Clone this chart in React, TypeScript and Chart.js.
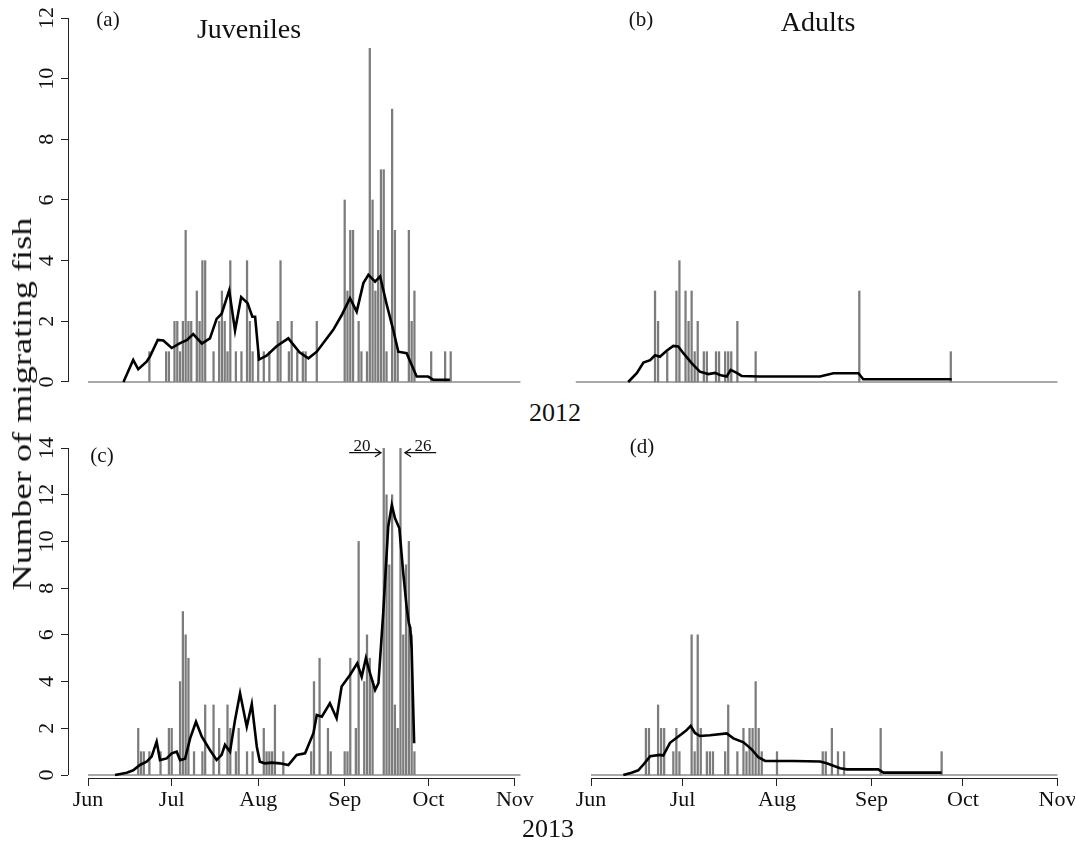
import React, { useEffect, useRef } from "react";
import { Chart, registerables } from "chart.js";

Chart.register(...registerables);

const FONT = "'Liberation Serif', 'Times New Roman', Times, serif";

// x positions are days since 1 June
const monthTickDays = [0, 30, 61, 92, 122, 153];
const monthTickLabels = ["Jun", "Jul", "Aug", "Sep", "Oct", "Nov"];
const yTicksTop = [0, 2, 4, 6, 8, 10, 12];
const yTicksBottom = [0, 2, 4, 6, 8, 10, 12, 14];

// (a) Juveniles 2012 — daily counts
const juvDays2012 = [22, 28, 29, 31, 32, 33, 34, 35, 36, 37, 39, 40, 41, 42, 45, 47, 48, 49, 50, 51, 53, 55, 57, 58, 59, 61, 63, 65, 68, 69, 72, 73, 75, 77, 78, 82, 92, 93, 94, 95, 97, 98, 100, 101, 102, 103, 104, 105, 106, 107, 109, 110, 111, 115, 116, 117, 123, 128, 130];
const juvCounts2012 = [1, 1, 1, 2, 2, 1, 2, 5, 2, 2, 3, 2, 4, 4, 1, 2, 3, 2, 1, 4, 1, 1, 4, 2, 1, 1, 1, 1, 2, 4, 1, 2, 1, 1, 1, 2, 6, 3, 5, 5, 2, 1, 1, 11, 6, 3, 5, 7, 7, 1, 9, 5, 1, 5, 2, 3, 1, 1, 1];
// (a) running mean
const juvSmoothDays2012 = [12.7, 16.2, 18.0, 21.0, 22.2, 25.0, 27.0, 30.0, 33.0, 35.4, 37.7, 40.8, 43.7, 46.1, 47.9, 50.6, 52.7, 54.9, 57.2, 58.9, 59.9, 61.3, 64.0, 67.6, 71.8, 75.8, 79.0, 82.0, 87.9, 90.9, 93.9, 96.3, 98.7, 100.5, 102.9, 104.7, 107.1, 109.4, 111.2, 114.2, 117.8, 121.9, 123.8, 129.7];
const juvSmooth2012 = [0, 0.73, 0.42, 0.67, 0.84, 1.39, 1.37, 1.12, 1.28, 1.38, 1.58, 1.27, 1.44, 2.08, 2.25, 3.02, 1.7, 2.8, 2.6, 2.15, 2.15, 0.74, 0.87, 1.18, 1.44, 0.98, 0.78, 1.0, 1.72, 2.2, 2.76, 2.32, 3.26, 3.53, 3.31, 3.48, 2.54, 1.72, 1.0, 0.95, 0.18, 0.18, 0.07, 0.07];

// (b) Adults 2012
const adDays2012 = [21, 22, 25, 28, 29, 31, 32, 33, 34, 35, 37, 38, 41, 42, 44, 45, 46, 48, 54, 88, 118];
const adCounts2012 = [3, 2, 1, 3, 4, 3, 2, 3, 1, 2, 1, 1, 1, 1, 1, 1, 1, 2, 1, 3, 1];
const adSmoothDays2012 = [12.2, 15.0, 17.2, 19.4, 21.0, 22.6, 24.8, 27.0, 28.6, 30.3, 33.0, 35.7, 38.5, 40.7, 42.3, 44.5, 45.8, 47.8, 49.4, 55.4, 75.1, 79.5, 87.7, 89.3, 118.3];
const adSmooth2012 = [0, 0.29, 0.64, 0.72, 0.88, 0.83, 1.03, 1.19, 1.17, 0.95, 0.62, 0.34, 0.26, 0.3, 0.23, 0.18, 0.4, 0.3, 0.2, 0.18, 0.18, 0.29, 0.29, 0.09, 0.09];

// (c) Juveniles 2013
const juvDays2013 = [18, 19, 20, 22, 26, 29, 30, 33, 34, 35, 36, 38, 41, 42, 45, 47, 50, 51, 53, 54, 57, 59, 63, 64, 65, 66, 67, 70, 80, 81, 83, 86, 87, 92, 93, 94, 96, 97, 99, 100, 101, 102, 106, 107, 108, 109, 110, 111, 112, 113, 114, 115, 116, 117];
const juvCounts2013 = [2, 1, 1, 1, 1, 2, 2, 4, 7, 6, 5, 1, 1, 3, 3, 2, 3, 2, 1, 2, 1, 1, 2, 1, 1, 1, 3, 1, 1, 4, 5, 2, 1, 1, 1, 5, 2, 10, 4, 6, 5, 4, 20, 12, 9, 12, 3, 2, 26, 6, 9, 10, 6, 1];
const juvSmoothDays2013 = [9.7, 13.9, 16.2, 18.6, 21.0, 22.8, 24.6, 25.8, 28.2, 30.0, 31.8, 33.0, 34.8, 36.6, 38.7, 40.8, 43.7, 46.1, 47.9, 49.1, 50.9, 52.7, 54.5, 56.9, 58.7, 60.5, 61.6, 63.4, 65.8, 68.8, 71.8, 74.8, 77.8, 80.8, 82.0, 83.8, 86.7, 89.1, 90.9, 93.9, 96.5, 98.1, 99.6, 101.1, 102.9, 104.1, 105.8, 107.6, 108.9, 110.0, 111.6, 113.0, 114.2, 115.0, 115.5, 116.0, 116.9];
const juvSmooth2013 = [0, 0.1, 0.2, 0.43, 0.57, 0.79, 1.43, 0.64, 0.71, 0.93, 1.0, 0.64, 0.7, 1.57, 2.28, 1.64, 1.07, 0.64, 0.86, 1.29, 1.0, 2.36, 3.5, 2.07, 3.04, 1.21, 0.57, 0.5, 0.53, 0.5, 0.43, 0.86, 0.93, 1.79, 2.57, 2.5, 3.07, 2.43, 3.79, 4.28, 4.78, 4.2, 5.0, 4.35, 3.64, 3.93, 6.92, 10.63, 11.56, 11.0, 10.56, 8.63, 7.2, 6.5, 6.3, 5.4, 1.36];

// (d) Adults 2013
const adDays2013 = [18, 19, 22, 23, 24, 27, 28, 29, 33, 34, 35, 36, 38, 39, 40, 44, 45, 48, 50, 51, 52, 53, 54, 55, 56, 61, 76, 77, 79, 81, 83, 95, 115];
const adCounts2013 = [2, 2, 3, 2, 2, 1, 2, 1, 6, 1, 6, 2, 1, 1, 1, 1, 3, 1, 2, 1, 2, 2, 4, 2, 1, 1, 1, 1, 2, 1, 1, 2, 1];
const adSmoothDays2013 = [10.6, 13.3, 15.5, 17.2, 19.4, 22.6, 23.7, 25.9, 29.2, 31.2, 32.7, 34.1, 35.7, 39.0, 44.5, 46.7, 50.0, 52.7, 54.9, 57.1, 66.3, 75.1, 77.3, 81.7, 83.9, 94.2, 95.9, 115.0];
const adSmooth2013 = [0, 0.1, 0.2, 0.45, 0.8, 0.86, 0.83, 1.38, 1.7, 1.9, 2.1, 1.8, 1.67, 1.7, 1.78, 1.57, 1.4, 1.1, 0.76, 0.6, 0.6, 0.58, 0.5, 0.29, 0.24, 0.24, 0.1, 0.1];

type Arrow = { from: number; to: number; y: number };

type PanelSpec = {
  key: string;
  days: number[];
  counts: number[];
  smoothDays: number[];
  smooth: number[];
  chartLeft: number;
  chartRight: number;
  chartTop: number;
  chartBottom: number;
  xMin: number;
  xMax: number;
  yMin: number;
  yMax: number;
  yTicks: number[];
  showX: boolean;
  showY: boolean;
  baseFrom: number;
  baseTo: number;
  arrows?: Arrow[];
};

const LEFT = { chartLeft: 68, chartRight: 530, xMin: -7.17, xMax: 158.42 };
const RIGHT = { chartLeft: 575, chartRight: 1065, xMin: -5.25, xMax: 155.46 };
const TOP = { chartTop: 18, chartBottom: 385, yMin: -0.099, yMax: 12, yTicks: yTicksTop };
const BOTTOM = { chartTop: 448, chartBottom: 778, yMin: -0.128, yMax: 14, yTicks: yTicksBottom };

const panels: PanelSpec[] = [
  { key: "a", days: juvDays2012, counts: juvCounts2012, smoothDays: juvSmoothDays2012, smooth: juvSmooth2012, ...LEFT, ...TOP, showX: false, showY: true, baseFrom: 0, baseTo: 155 },
  { key: "b", days: adDays2012, counts: adCounts2012, smoothDays: adSmoothDays2012, smooth: adSmooth2012, ...RIGHT, ...TOP, showX: false, showY: false, baseFrom: -5, baseTo: 153 },
  {
    key: "c", days: juvDays2013, counts: juvCounts2013, smoothDays: juvSmoothDays2013, smooth: juvSmooth2013, ...LEFT, ...BOTTOM, showX: true, showY: true, baseFrom: 0, baseTo: 155,
    arrows: [{ from: 93.6, to: 105.0, y: 13.8 }, { from: 124.8, to: 113.6, y: 13.8 }],
  },
  { key: "d", days: adDays2013, counts: adCounts2013, smoothDays: adSmoothDays2013, smooth: adSmooth2013, ...RIGHT, ...BOTTOM, showX: true, showY: false, baseFrom: 0, baseTo: 153 },
];

const YW = 60;
const XH = 45;
const PT = 20;
const PB = 10;
const PR = 10;

function Panel({ spec }: { spec: PanelSpec }) {
  const ref = useRef<HTMLCanvasElement>(null);
  const PL = spec.showY ? 0 : 10;
  const canvasLeft = spec.chartLeft - PL - (spec.showY ? YW : 0);
  const canvasTop = spec.chartTop - PT;
  const width = spec.chartRight + PR - canvasLeft;
  const height = spec.chartBottom + (spec.showX ? XH : 0) + PB - canvasTop;

  useEffect(() => {
    const canvas = ref.current;
    if (!canvas) return;
    const yTop = spec.yTicks[spec.yTicks.length - 1];
    const decor = {
      id: "rdecor_" + spec.key,
      beforeDatasetsDraw(chart: any) {
        const { ctx, scales } = chart;
        const x = scales.x;
        const y = scales.y;
        ctx.save();
        ctx.strokeStyle = "#8c8c8c";
        ctx.lineWidth = 1.4;
        ctx.beginPath();
        const y0 = y.getPixelForValue(0);
        ctx.moveTo(x.getPixelForValue(spec.baseFrom), y0);
        ctx.lineTo(x.getPixelForValue(spec.baseTo), y0);
        ctx.stroke();
        ctx.restore();
      },
      afterDraw(chart: any) {
        const { ctx, scales, chartArea } = chart;
        const x = scales.x;
        const y = scales.y;
        ctx.save();
        ctx.strokeStyle = "#222";
        ctx.lineWidth = 1;
        if (spec.showX) {
          const yy = Math.round(chartArea.bottom) + 0.5;
          ctx.beginPath();
          ctx.moveTo(x.getPixelForValue(monthTickDays[0]), yy);
          ctx.lineTo(x.getPixelForValue(monthTickDays[monthTickDays.length - 1]), yy);
          ctx.stroke();
        }
        if (spec.showY) {
          const xx = Math.round(chartArea.left) + 0.5;
          ctx.beginPath();
          ctx.moveTo(xx, y.getPixelForValue(0));
          ctx.lineTo(xx, y.getPixelForValue(yTop));
          ctx.stroke();
        }
        if (spec.arrows) {
          ctx.strokeStyle = "#111";
          ctx.lineWidth = 1.3;
          for (const a of spec.arrows) {
            const x1 = x.getPixelForValue(a.from);
            const x2 = x.getPixelForValue(a.to);
            const yy = y.getPixelForValue(a.y);
            const dir = x2 > x1 ? 1 : -1;
            ctx.beginPath();
            ctx.moveTo(x1, yy);
            ctx.lineTo(x2, yy);
            ctx.moveTo(x2 - dir * 6, yy - 4);
            ctx.lineTo(x2, yy);
            ctx.lineTo(x2 - dir * 6, yy + 4);
            ctx.stroke();
          }
        }
        ctx.restore();
      },
    };

    const chart = new Chart(canvas, {
      type: "bar",
      data: {
        datasets: [
          {
            type: "line",
            data: spec.smoothDays.map((d, i) => ({ x: d, y: spec.smooth[i] })),
            borderColor: "#000",
            borderWidth: 2.6,
            pointRadius: 0,
            tension: 0,
            fill: false,
            order: 1,
          } as any,
          {
            type: "bar",
            data: spec.days.map((d, i) => ({ x: d, y: spec.counts[i] })),
            backgroundColor: "#7c7c7c",
            borderWidth: 0,
            barThickness: 1.6,
            order: 2,
          } as any,
        ],
      },
      options: {
        responsive: false,
        animation: false,
        devicePixelRatio: 1,
        layout: { padding: { left: PL, right: PR, top: PT, bottom: PB } },
        plugins: { legend: { display: false }, tooltip: { enabled: false } },
        scales: {
          x: {
            type: "linear",
            min: spec.xMin,
            max: spec.xMax,
            offset: false,
            display: spec.showX,
            position: "bottom",
            afterBuildTicks: (s: any) => {
              s.ticks = monthTickDays.map((v) => ({ value: v }));
            },
            afterFit: (s: any) => {
              s.height = spec.showX ? XH : 0;
              s.paddingLeft = 0;
              s.paddingRight = 0;
              s.paddingTop = 0;
              s.paddingBottom = 0;
            },
            ticks: {
              callback: (_v: any, i: number) => monthTickLabels[i],
              autoSkip: false,
              maxRotation: 0,
              minRotation: 0,
              font: { family: FONT, size: 22 },
              color: "#111",
              padding: 1,
            },
            grid: { offset: false, drawOnChartArea: false, drawTicks: true, tickLength: 8, color: "#222", lineWidth: 1 },
            border: { display: false },
          },
          y: {
            type: "linear",
            min: spec.yMin,
            max: spec.yMax,
            display: spec.showY,
            position: "left",
            afterBuildTicks: (s: any) => {
              s.ticks = spec.yTicks.map((v) => ({ value: v }));
            },
            afterFit: (s: any) => {
              s.width = spec.showY ? YW : 0;
              s.paddingLeft = 0;
              s.paddingRight = 0;
              s.paddingTop = 0;
              s.paddingBottom = 0;
            },
            ticks: {
              callback: (v: any) => String(v),
              minRotation: 90,
              maxRotation: 90,
              crossAlign: "center",
              font: { family: FONT, size: 22 },
              color: "#111",
              padding: 3,
            },
            grid: { drawOnChartArea: false, drawTicks: true, tickLength: 7, color: "#222", lineWidth: 1 },
            border: { display: false },
          },
        },
      } as any,
      plugins: [decor],
    });
    return () => chart.destroy();
  }, []);

  return (
    <canvas
      ref={ref}
      width={width}
      height={height}
      style={{ position: "absolute", left: canvasLeft, top: canvasTop, width, height }}
    />
  );
}

type Label = { text: string; x: number; y: number; size: number; rotate?: number; stretch?: number };

const labels: Label[] = [
  { text: "(a)", x: 108, y: 19, size: 21 },
  { text: "Juveniles", x: 249, y: 29, size: 28 },
  { text: "(b)", x: 641, y: 19, size: 21 },
  { text: "Adults", x: 818, y: 22, size: 28 },
  { text: "2012", x: 555, y: 413, size: 26 },
  { text: "(c)", x: 102, y: 455, size: 21 },
  { text: "(d)", x: 642, y: 446, size: 21 },
  { text: "20", x: 362, y: 445, size: 17 },
  { text: "26", x: 423, y: 445, size: 17 },
  { text: "2013", x: 548, y: 829, size: 26 },
  { text: "Number of migrating fish", x: 22, y: 404, size: 28, rotate: -90, stretch: 1.3 },
];

export default function App() {
  return (
    <div style={{ position: "absolute", left: 0, top: 0, width: 1076, height: 845, background: "#fff", overflow: "hidden" }}>
      {panels.map((p) => (
        <Panel key={p.key} spec={p} />
      ))}
      {labels.map((l) => (
        <div
          key={l.text}
          style={{
            position: "absolute",
            left: l.x,
            top: l.y,
            transform: `translate(-50%, -50%)${l.rotate ? ` rotate(${l.rotate}deg)` : ""}${l.stretch ? ` scaleX(${l.stretch})` : ""}`,
            fontFamily: FONT,
            fontSize: l.size,
            lineHeight: 1,
            whiteSpace: "nowrap",
            color: "#111",
          }}
        >
          {l.text}
        </div>
      ))}
    </div>
  );
}
